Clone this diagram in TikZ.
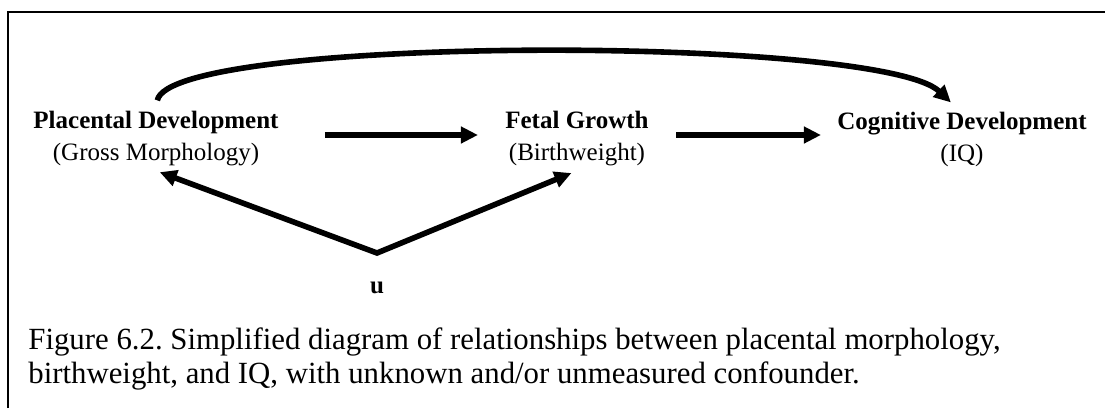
\documentclass[tikz,border=0pt]{standalone}
\usepackage{fontspec}
\setmainfont{Liberation Serif}
\usetikzlibrary{positioning, arrows.meta}
\tikzset{
    >={Triangle[length=8.5pt, width=8pt]}, % Solid heads
    every node/.style={inner sep=2pt},
}
\frenchspacing

\begin{document}
\begin{tikzpicture}[
    x=0.5pt, y=-0.5pt, % pixel grid, y downwards
    on grid,
    link/.style={->, line width=2.8pt},
    var/.style={align=center, font=\fontsize{12.5}{16}\selectfont},
    caption/.style={align=left, inner sep=0pt, font=\fontsize{15.4}{17.3}\selectfont},
    frame/.style={line width=1pt}
]
    \useasboundingbox (0,0) rectangle (1105,408);
    \draw[frame] (8,408) |- (1105,12);

    % --- Variables ---
    \node[var] (pd) at (156,139) {\textbf{Placental Development}\\(Gross Morphology)};
    \node[var] (fg) [right=210.5pt of pd] {\textbf{Fetal Growth}\\(Birthweight)};
    \node[var] (cd) [right=192.5pt of fg] {\textbf{Cognitive Development}\\(IQ)};

    \coordinate (fork) at (377,253);
    \node[var, font=\fontsize{12.5}{16}\selectfont\bfseries] (u) [below=12.5pt of fork] {u};

    % --- Caption ---
    \node[caption, anchor=north west] (cap) at (28,327)
        {Figure 6.2. Simplified diagram of relationships between placental morphology,\\
         birthweight, and IQ, with unknown and/or unmeasured confounder.};

    % --- Edges ---
    \draw[link, shorten <=21pt, shorten >=11.5pt] ([yshift=2pt]pd.east) -- ([yshift=2pt]fg.west);
    \draw[link, shorten <=11.5pt, shorten >=6pt] ([yshift=2pt]fg.east) -- ([yshift=2pt]cd.west);
    \draw[link, shorten <=3.5pt, shorten >=3.5pt]
        (pd.north) .. controls (170,35) and (880,35) .. ([xshift=-3pt]cd.north);
    % confounder u
    \draw[link, <->, shorten <=2pt, shorten >=3pt] (pd.south) -- (fork) -- (fg.south);

\end{tikzpicture}
\end{document}
